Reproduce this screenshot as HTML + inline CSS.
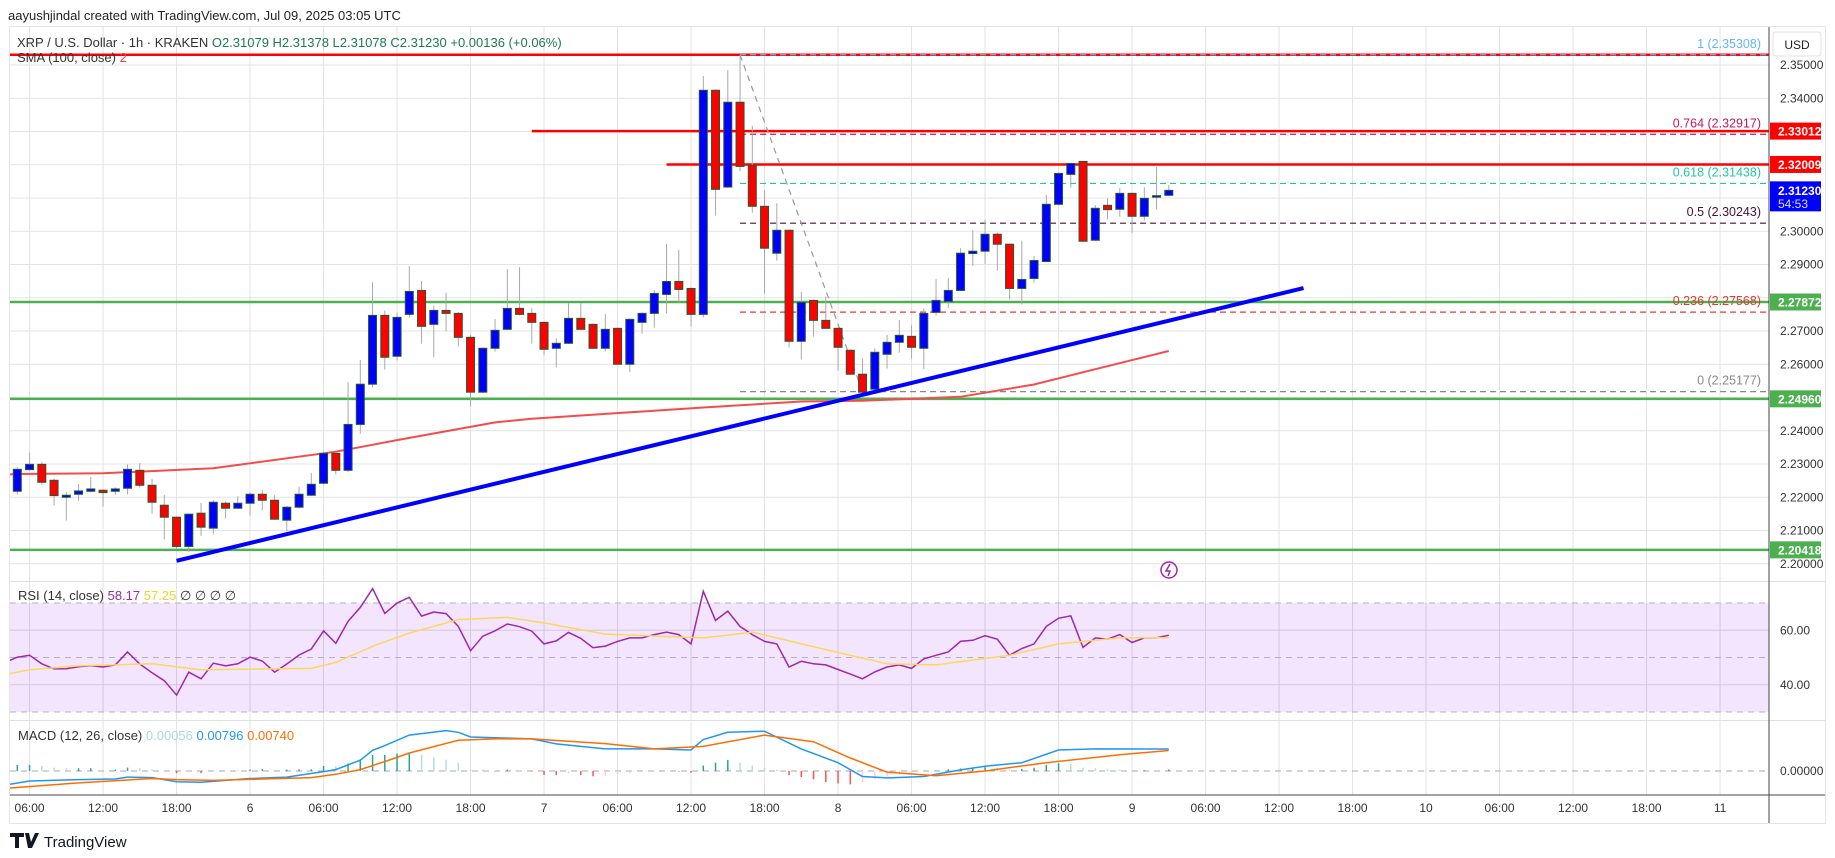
<!DOCTYPE html>
<html><head><meta charset="utf-8"><style>
html,body{margin:0;padding:0;background:#fff;}
svg{display:block;font-family:"Liberation Sans",sans-serif;}
</style></head><body>
<svg id="c" width="1835" height="858" viewBox="0 0 1835 858" xmlns="http://www.w3.org/2000/svg">
<defs>
<clipPath id="cp"><rect x="10" y="27" width="1759" height="554"/></clipPath>
<clipPath id="cr"><rect x="10" y="583" width="1759" height="136"/></clipPath>
<clipPath id="cm"><rect x="10" y="721" width="1759" height="73"/></clipPath>
</defs>
<rect x="9.5" y="26.5" width="1816" height="797" fill="#fff" stroke="#e6e6e6"/>
<text x="8" y="20" font-size="13" fill="#222">aayushjindal created with TradingView.com, Jul 09, 2025 03:05 UTC</text>
<g id="grid"></g>
<rect x="10" y="603" width="1759" height="109" fill="#f3e5fd"/>
<g id="gridr"></g>
<g id="price" clip-path="url(#cp)"></g>
<g id="rsi" clip-path="url(#cr)"></g>
<g id="macd" clip-path="url(#cm)"></g>
<line x1="10" y1="581.5" x2="1825" y2="581.5" stroke="#e0e0e0"/>
<line x1="10" y1="720.5" x2="1825" y2="720.5" stroke="#e0e0e0"/>
<line x1="10" y1="795" x2="1825" y2="795" stroke="#444"/>
<line x1="1769" y1="27" x2="1769" y2="823" stroke="#444"/>
<g id="axis" font-size="12" fill="#333"></g>
<g id="taxis" font-size="12" fill="#333"></g>
<rect x="1773" y="32" width="48" height="24" rx="3" fill="#fff" stroke="#e0e0e0"/>
<text x="1797" y="49" font-size="12" fill="#222" text-anchor="middle">USD</text>
<g font-size="13">
<text x="17" y="47" fill="#333">XRP / U.S. Dollar · 1h · KRAKEN <tspan fill="#1e7a52">O2.31079 H2.31378 L2.31078 C2.31230 +0.00136 (+0.06%)</tspan></text>
<text x="17" y="62" fill="#333">SMA (100, close) <tspan fill="#f23645">2</tspan></text>
<text x="18" y="600" fill="#333">RSI (14, close) <tspan fill="#9c27b0">58.17</tspan> <tspan fill="#f2d42a">57.25</tspan> <tspan fill="#333">∅ ∅ ∅ ∅</tspan></text>
<text x="18" y="740" fill="#333">MACD (12, 26, close) <tspan fill="#a8dcd5">0.00056</tspan> <tspan fill="#2196f3">0.00796</tspan> <tspan fill="#ff6d00">0.00740</tspan></text>
</g>
<g><circle cx="1169" cy="570" r="8" fill="none" stroke="#9c27b0" stroke-width="1.5"/><path d="M1170 564 L1166 571 L1170 571 L1168 576" fill="none" stroke="#9c27b0" stroke-width="1.5"/></g>
<g>
<path d="M10 833 h14 v4 h-5 v11 h-4 v-11 h-5z M25 833 h4 l2 9 l4 -9 h4 l-7 15 h-4z" fill="#131722"/>
<text x="44" y="847" font-size="15" fill="#131722">TradingView</text>
</g>
</svg>
<script>
// ---- data ----
const candleOpen=[2.2218,2.2283,2.2299,2.2251,2.2200,2.2209,2.2218,2.2221,2.2218,2.2227,2.2281,2.2236,2.2176,2.2140,2.2052,2.2152,2.2107,2.2182,2.2167,2.2182,2.2209,2.2191,2.2131,2.2170,2.2206,2.2242,2.2332,2.2281,2.2419,2.2540,2.2747,2.2624,2.2750,2.2822,2.2720,2.2762,2.2753,2.2681,2.2516,2.2648,2.2705,2.2768,2.2753,2.2726,2.2648,2.2663,2.2738,2.2720,2.2648,2.2708,2.2600,2.2726,2.2753,2.2810,2.2849,2.2828,2.2750,2.3424,2.3133,2.3388,2.3198,2.3075,2.2934,2.3003,2.2669,2.2792,2.2732,2.2708,2.2642,2.2570,2.2525,2.2630,2.2666,2.2684,2.2648,2.2756,2.2789,2.2822,2.2933,2.2940,2.2991,2.2961,2.2828,2.2858,2.2909,2.3081,2.3171,2.3210,2.2973,2.3078,2.3066,2.3114,2.3045,2.3105,2.3108];
const candleHigh=[2.2290,2.2334,2.2306,2.2256,2.2216,2.2240,2.2261,2.2224,2.2230,2.2299,2.2303,2.2255,2.2207,2.2142,2.2152,2.2183,2.2192,2.2187,2.2203,2.2215,2.2222,2.2206,2.2174,2.2231,2.2273,2.2338,2.2336,2.2546,2.2613,2.2847,2.2761,2.2755,2.2895,2.2850,2.2777,2.2815,2.2757,2.2688,2.2651,2.2736,2.2886,2.2892,2.2768,2.2728,2.2678,2.2783,2.2783,2.2723,2.2751,2.2710,2.2738,2.2756,2.2823,2.2962,2.2944,2.2831,2.3467,2.3427,2.3485,2.3530,2.3317,2.3123,2.3084,2.3004,2.2818,2.2795,2.2803,2.2711,2.2644,2.2617,2.2648,2.2688,2.2733,2.2717,2.2768,2.2856,2.2859,2.2949,2.3004,2.3034,2.2996,2.2963,2.2971,2.2926,2.3109,2.3176,2.3204,2.3210,2.3079,2.3099,2.3130,2.3116,2.3133,2.3194,2.3139];
const candleLow=[2.2208,2.2280,2.2238,2.2175,2.2130,2.2190,2.2215,2.2172,2.2208,2.2208,2.2229,2.2150,2.2073,2.2046,2.2036,2.2084,2.2088,2.2136,2.2164,2.2145,2.2161,2.2132,2.2098,2.2167,2.2204,2.2239,2.2269,2.2276,2.2391,2.2531,2.2584,2.2611,2.2740,2.2662,2.2621,2.2699,2.2653,2.2473,2.2513,2.2638,2.2703,2.2747,2.2662,2.2627,2.2591,2.2661,2.2703,2.2646,2.2638,2.2598,2.2576,2.2692,2.2710,2.2753,2.2783,2.2713,2.2741,2.3047,2.3130,2.3180,2.3056,2.2812,2.2912,2.2651,2.2614,2.2683,2.2707,2.2581,2.2568,2.2513,2.2523,2.2587,2.2635,2.2617,2.2585,2.2746,2.2770,2.2820,2.2896,2.2902,2.2881,2.2795,2.2780,2.2845,2.2907,2.3078,2.3131,2.2968,2.2971,2.3036,2.3044,2.2994,2.3032,2.3065,2.3107];
const candleClose=[2.2284,2.2299,2.2245,2.2205,2.2206,2.2219,2.2225,2.2214,2.2225,2.2284,2.2236,2.2185,2.2140,2.2052,2.2149,2.2110,2.2185,2.2167,2.2182,2.2209,2.2191,2.2134,2.2170,2.2209,2.2239,2.2332,2.2281,2.2419,2.2540,2.2747,2.2621,2.2741,2.2819,2.2714,2.2762,2.2753,2.2681,2.2516,2.2648,2.2702,2.2768,2.2750,2.2726,2.2645,2.2663,2.2738,2.2705,2.2648,2.2705,2.2600,2.2735,2.2753,2.2813,2.2849,2.2825,2.2750,2.3424,2.3126,2.3388,2.3195,2.3075,2.2949,2.3003,2.2669,2.2786,2.2732,2.2708,2.2651,2.2570,2.2516,2.2636,2.2666,2.2687,2.2651,2.2753,2.2792,2.2822,2.2934,2.2940,2.2991,2.2961,2.2828,2.2855,2.2912,2.3081,2.3174,2.3204,2.2970,2.3069,2.3065,2.3114,2.3045,2.3099,2.3107,2.3123];
const smaIdx=[0,1,8,17,27,32,40,43,57,65,70,78,84,89,95];
const smaVal=[2.2268,2.2270,2.2272,2.2287,2.2337,2.2372,2.2425,2.2436,2.2470,2.2488,2.2490,2.2502,2.2539,2.2585,2.2640];
const rsiVal=[48.2,50.1,50.8,47.7,45.8,45.9,46.6,47.0,46.5,47.3,52.0,47.6,44.4,41.5,36.2,44.6,42.2,47.9,46.9,47.7,50.1,48.7,44.6,47.6,50.9,53.1,59.8,55.2,63.3,68.4,75.3,66.2,70.0,72.1,65.2,66.7,66.1,61.4,52.5,57.8,59.8,62.3,61.3,59.7,55.0,56.1,59.2,57.0,53.6,54.2,55.9,57.2,57.2,58.4,59.3,58.4,55.0,74.3,63.6,67.0,61.4,58.4,55.9,55.0,46.5,48.6,47.7,47.3,45.6,43.9,42.2,44.7,46.5,47.3,46.0,49.5,50.8,52.0,55.9,56.3,58.0,56.7,50.8,53.3,55.0,61.4,64.4,65.3,53.7,57.2,56.7,58.4,55.5,57.2,57.2,58.17];
const rsiMaIdx=[0,2,6,12,16,25,27,30,33,37,41,44,49,57,61,67,72,76,82,86,91,95];
const rsiMaVal=[43.8,45.5,46.9,47.7,45.5,46.0,48.2,54.1,59.0,63.9,64.7,62.7,58.6,57.2,59.3,52.9,47.7,47.3,50.8,55.0,57.2,57.25];
const macdIdx=[0,2,6,9,10,12,14,16,20,23,26,27,29,30,31,33,36,37,38,41,43,45,49,53,56,57,59,62,65,68,70,72,75,78,80,83,86,89,95];
const macdVal=[-0.0051,-0.0036,-0.0031,-0.0029,-0.0022,-0.0024,-0.0039,-0.0041,-0.0027,-0.0022,-0.0002,0.0005,0.0039,0.0075,0.0092,0.0130,0.0146,0.0140,0.0123,0.0119,0.0116,0.0098,0.0080,0.0080,0.0076,0.0114,0.0140,0.0144,0.0080,0.0030,-0.0020,-0.0025,-0.0020,0.0004,0.0017,0.0030,0.0076,0.0080,0.00796];
const sigIdx=[0,6,12,14,17,25,27,29,31,33,37,40,43,49,53,57,62,66,69,72,76,80,85,91,95];
const sigVal=[-0.0063,-0.0043,-0.0027,-0.0031,-0.0034,-0.0024,-0.0012,0.0005,0.0034,0.0065,0.0111,0.0116,0.0116,0.0099,0.0080,0.0089,0.0130,0.0106,0.0047,-0.0004,-0.0017,0.0000,0.0030,0.0059,0.0074];
const histVal=[0.0022,0.0022,0.0018,0.0012,0.0010,0.0010,0.0010,0.0004,0.0005,0.0012,0.0010,0.0006,0,-0.0008,-0.0005,-0.0008,-0.0002,-0.0001,0.0001,0.0005,0.0007,0.0005,0.0005,0.0006,0.0006,0.0018,0.0017,0.0027,0.0042,0.0058,0.0058,0.0063,0.0063,0.0058,0.0051,0.0041,0.0029,0.0006,0.0005,0.0002,0.0005,0.0002,-0.0002,-0.0014,-0.0014,-0.0008,-0.0014,-0.0019,-0.0016,-0.0012,-0.0008,-0.0004,-0.0002,-0.0001,-0.0002,-0.0006,0.0020,0.0030,0.0040,0.0030,0.0020,0.0012,0.0004,-0.0015,-0.0022,-0.0030,-0.0040,-0.0045,-0.0048,-0.0040,-0.0030,-0.0020,-0.0012,-0.0006,-0.0003,0.0002,0.0006,0.0009,0.0012,0.0014,0.0012,0.0006,0.0008,0.0012,0.0022,0.0028,0.0026,0.0012,0.0010,0.0008,0.0005,0.0003,0.0003,0.0002,0.00056];
const priceTicks=[2.35,2.34,2.30,2.29,2.27,2.26,2.24,2.23,2.22,2.21,2.20];
const gridPrices=[2.35,2.34,2.33,2.32,2.31,2.30,2.29,2.28,2.27,2.26,2.25,2.24,2.23,2.22,2.21,2.20];
const timeTickHours=[6,12,18,24,30,36,42,48,54,60,66,72,78,84,90,96,102,108,114,120,126,132,138,144];
const timeTickLabels=["06:00","12:00","18:00","6","06:00","12:00","18:00","7","06:00","12:00","18:00","8","06:00","12:00","18:00","9","06:00","12:00","18:00","10","06:00","12:00","18:00","11"];
const resistance=[2.35308,2.33012,2.32009];
const resistanceStartHour=[0,47,58];
const support=[2.27872,2.24960,2.20418];
const fibRatios=["1","0.764","0.618","0.5","0.236","0"];
const fibPrices=[2.35308,2.32917,2.31438,2.30243,2.27568,2.25177];
const fibColors=["#64b5f6","#c2185b","#26c6a0","#4a1030","#e53935","#888888"];
const fibStartHour=64, fibEndHour=74;
const trendHours=[18,110];
const trendPrices=[2.2009,2.2829];
const lastPrice=2.31230;
// ---- scales ----
const NS="http://www.w3.org/2000/svg";
const xH=h=>17.3+(h-5)*12.25;      // hour since Jul 5 00:00
const xI=i=>xH(i+4);                // candle index (1-based)
const yP=p=>65+(2.35-p)*3325;
const yR=r=>603+(70-r)*2.725;
const yM=v=>771-v*2764;
function mk(tag,attrs,parent){const e=document.createElementNS(NS,tag);for(const k in attrs)e.setAttribute(k,attrs[k]);parent.appendChild(e);return e;}
const grid=document.getElementById('grid'),gridr=document.getElementById('gridr'),price=document.getElementById('price'),rsi=document.getElementById('rsi'),macd=document.getElementById('macd'),axis=document.getElementById('axis'),taxis=document.getElementById('taxis');
// grid
gridPrices.forEach(p=>{const l=mk('line',{x1:10,x2:1769,y1:yP(p),y2:yP(p),stroke:'#e3e3e3'},grid);

});
timeTickHours.forEach((h,k)=>{const x=xH(h);const l=mk('line',{x1:x,x2:x,y1:27,y2:795,stroke:'#e3e3e3'},grid);


const t=mk('text',{x:x,y:812,'text-anchor':'middle'},taxis);t.textContent=timeTickLabels[k];

});
[60,40].forEach(r=>{const l=mk('line',{x1:10,x2:1769,y1:yR(r),y2:yR(r),stroke:'#d5c6df'},gridr);

});
timeTickHours.forEach(h=>{const x=xH(h);const l=mk('line',{x1:x,x2:x,y1:603,y2:712,stroke:'#d5c6df'},gridr);

});
[70,50,30].forEach(r=>{const l=mk('line',{x1:10,x2:1769,y1:yR(r),y2:yR(r),stroke:'#b8b0bf','stroke-dasharray':'6 5'},gridr);

});
// support/resistance
resistance.forEach((p,k)=>{const l=mk('line',{x1:Math.max(10,xH(resistanceStartHour[k])),x2:1769,y1:yP(p),y2:yP(p),stroke:'#ff0000','stroke-width':2.5},price);

});
support.forEach(p=>{const l=mk('line',{x1:10,x2:1769,y1:yP(p),y2:yP(p),stroke:'#4caf50','stroke-width':2.5},price);

});
// fib
fibPrices.forEach((p,k)=>{const l=mk('line',{x1:xH(fibStartHour),x2:1769,y1:yP(p),y2:yP(p),stroke:fibColors[k],'stroke-dasharray':'6 4','stroke-width':1.2},price);


const t=mk('text',{x:1761,y:yP(p)-7,'text-anchor':'end','font-size':12.5,fill:fibColors[k]},price);t.textContent=fibRatios[k]+' ('+p.toFixed(5)+')';

});
{const l=mk('line',{x1:xH(fibStartHour),y1:yP(fibPrices[0]),x2:xH(fibEndHour),y2:yP(fibPrices[5]),stroke:'#999','stroke-dasharray':'6 5','stroke-width':1.2},price);

}
// SMA
{let d=smaIdx.map((i,k)=>(k?'L':'M')+xI(i).toFixed(1)+' '+yP(smaVal[k]).toFixed(1)).join(' ');
const l=mk('path',{d:d,fill:'none',stroke:'#f44c4c','stroke-width':2},price);

}
// candles
candleOpen.forEach((o,k)=>{const i=k+1,c=candleClose[k],x=xI(i);const up=c>=o;
const w=mk('line',{x1:x,x2:x,y1:yP(candleHigh[k]),y2:yP(candleLow[k]),stroke:'#a8a8a8','stroke-width':1},price);


const top=yP(Math.max(o,c)),bh=Math.max(1.5,yP(Math.min(o,c))-top);
const b=mk('rect',{x:x-4,y:top,width:8,height:bh,fill:up?'#0000ff':'#ff0000',stroke:'#235a2f','stroke-width':1},price);

});
// trendline
{const l=mk('line',{x1:xH(trendHours[0]),y1:yP(trendPrices[0]),x2:xH(trendHours[1]),y2:yP(trendPrices[1]),stroke:'#0000ff','stroke-width':4},price);

}
// RSI
{let d=rsiVal.map((r,k)=>(k?'L':'M')+xI(k).toFixed(1)+' '+yR(r).toFixed(1)).join(' ');
const l=mk('path',{d:d,fill:'none',stroke:'#9c27b0','stroke-width':1.5},rsi);


let d2=rsiMaIdx.map((i,k)=>(k?'L':'M')+xI(i).toFixed(1)+' '+yR(rsiMaVal[k]).toFixed(1)).join(' ');
const m=mk('path',{d:d2,fill:'none',stroke:'#fbd85a','stroke-width':1.5},rsi);

}
// MACD
{const z=mk('line',{x1:10,x2:1769,y1:yM(0),y2:yM(0),stroke:'#aaa','stroke-dasharray':'6 5'},macd);


histVal.forEach((v,k)=>{const i=k+1,x=xI(i);const prev=k?histVal[k-1]:0;
const col=v>=0?(v>=prev?'#26a69a':'#b2dfdb'):(v<=prev?'#ff5252':'#ffcdd2');
const b=mk('rect',{x:x-0.75,y:Math.min(yM(v),yM(0)),width:1.5,height:Math.abs(yM(v)-yM(0)),fill:col},macd);

});
let d=macdIdx.map((i,k)=>(k?'L':'M')+xI(i).toFixed(1)+' '+yM(macdVal[k]).toFixed(1)).join(' ');
const l=mk('path',{d:d,fill:'none',stroke:'#2196f3','stroke-width':1.5},macd);


let d2=sigIdx.map((i,k)=>(k?'L':'M')+xI(i).toFixed(1)+' '+yM(sigVal[k]).toFixed(1)).join(' ');
const s=mk('path',{d:d2,fill:'none',stroke:'#ff6d00','stroke-width':1.5},macd);

}
// price axis
priceTicks.forEach(p=>{const t=mk('text',{x:1780,y:yP(p)+4},axis);t.textContent=p.toFixed(5);

});
[[60,'60.00'],[40,'40.00']].forEach(a=>{const t=mk('text',{x:1780,y:yR(a[0])+4},axis);t.textContent=a[1];

});
{const t=mk('text',{x:1780,y:yM(0)+4},axis);t.textContent='0.00000';

}
function badge(p,col,name){const y=yP(p);const r=mk('rect',{x:1770,y:y-8.5,width:51,height:17,fill:col},axis);


const t=mk('text',{x:1778,y:y+4.5,fill:'#fff','font-weight':'bold'},axis);t.textContent=p.toFixed(5);

}
badge(resistance[1],'#ff0000','resistance-badge');badge(resistance[2],'#ff0000','resistance-badge');
support.forEach(p=>badge(p,'#4caf50','support-badge'));
{const y=yP(lastPrice);const r=mk('rect',{x:1770,y:y-9,width:51,height:30,fill:'#0000ff'},axis);


const t=mk('text',{x:1778,y:y+4.5,fill:'#fff','font-weight':'bold'},axis);t.textContent=lastPrice.toFixed(5);


const t2=mk('text',{x:1778,y:y+17.5,fill:'#dde'},axis);t2.textContent='54:53';

}
</script>
</body></html>
